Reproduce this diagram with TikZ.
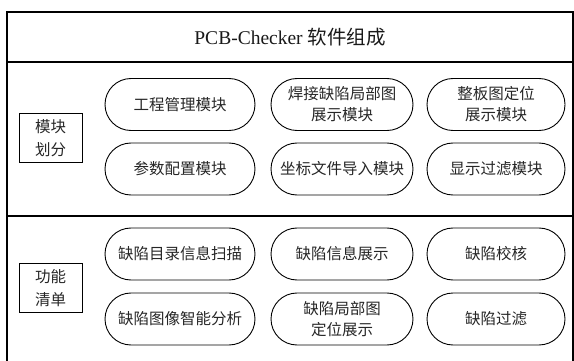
\documentclass[tikz,border=0pt]{standalone}
\usepackage{fontspec}
\setmainfont{Liberation Serif}
\newfontfamily\cjk{Noto Sans CJK SC}
\usetikzlibrary{shapes.misc}
\begin{document}
\begin{tikzpicture}[x=1pt,y=-1pt,
  frameline/.style={draw=black,line width=1.2pt},
  pill/.style={draw=black,line width=0.9pt,rounded rectangle,minimum height=52pt,inner sep=0pt,
    font=\cjk\fontsize{15.5}{21}\selectfont,align=center,text=black!85},
  labelbox/.style={draw=black,line width=1pt,minimum width=63pt,minimum height=49pt,inner sep=0pt,
    font=\cjk\fontsize{15.5}{23}\selectfont,align=center,text=black!85}]
\useasboundingbox (0,0) rectangle (574,361);
% outer frame (open at the bottom, which lies outside the picture)
\coordinate (bl) at (7,361);
\coordinate (tl) at (7,12);
\coordinate (tr) at (573,12);
\coordinate (br) at (573,361);
\coordinate (s1l) at (7,62);
\coordinate (s1r) at (573,62);
\coordinate (s2l) at (7,216);
\coordinate (s2r) at (573,216);
\draw[frameline] (bl) -- (tl) -- (tr) -- (br);
\draw[frameline] (s1l) -- (s1r);
\draw[frameline] (s2l) -- (s2r);
% title
\node[inner sep=0pt,font=\fontsize{19.5}{22}\selectfont,text=black!90] (title) at (290,37)
  {PCB-Checker {\cjk 软件组成}};
% left labels
\node[labelbox] (mk) at (50.5,138.5) {模块\\划分};
\node[labelbox] (gn) at (50.5,288) {功能\\清单};
% module pills
\node[pill,minimum width=150pt] (m1) at (180,104.5) {工程管理模块};
\node[pill,minimum width=142pt] (m2) at (342,104.5) {焊接缺陷局部图\\展示模块};
\node[pill,minimum width=138pt] (m3) at (496,104.5) {整板图定位\\展示模块};
\node[pill,minimum width=150pt] (m4) at (180,169) {参数配置模块};
\node[pill,minimum width=142pt] (m5) at (342,169) {坐标文件导入模块};
\node[pill,minimum width=138pt] (m6) at (496,169) {显示过滤模块};
% function pills
\node[pill,minimum width=150pt] (f1) at (180,254) {缺陷目录信息扫描};
\node[pill,minimum width=142pt] (f2) at (342,254) {缺陷信息展示};
\node[pill,minimum width=138pt] (f3) at (496,254) {缺陷校核};
\node[pill,minimum width=150pt] (f4) at (180,319) {缺陷图像智能分析};
\node[pill,minimum width=142pt] (f5) at (342,319) {缺陷局部图\\定位展示};
\node[pill,minimum width=138pt] (f6) at (496,319) {缺陷过滤};
\end{tikzpicture}
\end{document}
